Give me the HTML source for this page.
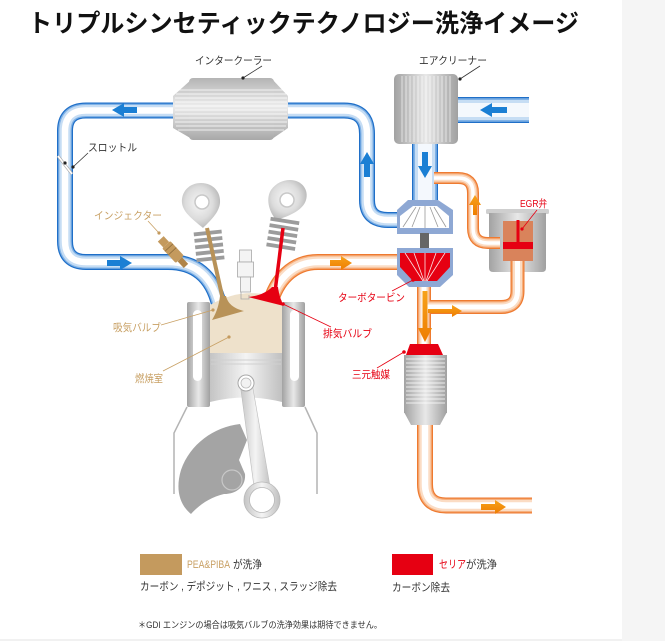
<!DOCTYPE html>
<html><head><meta charset="utf-8">
<style>
html,body{margin:0;padding:0;background:#fff;}
svg{display:block;}
text{font-family:"Liberation Sans","Noto Sans CJK JP",sans-serif;}
</style></head>
<body>
<svg width="665" height="641" viewBox="0 0 665 641" xmlns="http://www.w3.org/2000/svg">
<defs>
  <linearGradient id="gH" x1="0" y1="0" x2="1" y2="0">
    <stop offset="0" stop-color="#a2a2a2"/><stop offset="0.5" stop-color="#e8e8e8"/><stop offset="1" stop-color="#a0a0a0"/>
  </linearGradient>
  <linearGradient id="gV" x1="0" y1="0" x2="0" y2="1">
    <stop offset="0" stop-color="#b4b4b4"/><stop offset="0.45" stop-color="#ececec"/><stop offset="1" stop-color="#a8a8a8"/>
  </linearGradient>
  <linearGradient id="gPist" x1="0" y1="0" x2="1" y2="0">
    <stop offset="0" stop-color="#c4c4c4"/><stop offset="0.5" stop-color="#f4f4f4"/><stop offset="1" stop-color="#c0c0c0"/>
  </linearGradient>
  <radialGradient id="gCam" cx="0.45" cy="0.45" r="0.6">
    <stop offset="0" stop-color="#f6f6f6"/><stop offset="0.6" stop-color="#dcdcdc"/><stop offset="1" stop-color="#b4b4b4"/>
  </radialGradient>
  <linearGradient id="gOrA" x1="0" y1="0" x2="0" y2="1">
    <stop offset="0" stop-color="#f7a21b"/><stop offset="1" stop-color="#ee7d00"/>
  </linearGradient>
  <g id="blueLoop">
    <path d="M176,110.5 H86 Q65,110.5 65,131 V241 Q65,262 86,262 H168 C195,262 212,276 219,304"/>
    <path d="M286,110.5 H344 Q367,110.5 367,134 V200 Q367,220 388,220 H400"/>
  </g>
  <g id="blueWide">
    <path d="M456,110 H529"/>
    <path d="M425,142 V210"/>
  </g>
  <g id="orExh">
    <path d="M270,304 C276,281 292,262 318,262 H399"/>
    <path d="M425,420 V484 Q425,505.5 446,505.5 H532"/>
  </g>
  <g id="orMid">
    <path d="M424,284 V346"/>
    <path d="M426,307 H501 Q517.5,307 517.5,291 V262"/>
  </g>
  <g id="orEgr">
    <path d="M500,243 H488 Q473,243 473,228 V193 Q473,178 458,178 H434"/>
  </g>
</defs>

<rect x="0" y="0" width="665" height="641" fill="#ffffff"/>
<rect x="622" y="0" width="43" height="641" fill="#f5f5f5"/>
<rect x="0" y="639" width="622" height="2" fill="#f1f1f1"/>

<!-- Title -->
<text x="28" y="32" font-size="25" font-weight="bold" fill="#111" textLength="551" lengthAdjust="spacingAndGlyphs">トリプルシンセティックテクノロジー洗浄イメージ</text>

<!-- Blue pipes -->
<g fill="none" stroke-linecap="butt">
  <use href="#blueLoop" stroke="#1f6fc8" stroke-width="16"/>
  <use href="#blueLoop" stroke="#80b2e6" stroke-width="13.5"/>
  <use href="#blueLoop" stroke="#c6ddf4" stroke-width="11"/>
  <use href="#blueLoop" stroke="#ffffff" stroke-width="6.5"/>
  <use href="#blueWide" stroke="#1f6fc8" stroke-width="26"/>
  <use href="#blueWide" stroke="#80b2e6" stroke-width="23.5"/>
  <use href="#blueWide" stroke="#c6ddf4" stroke-width="20"/>
  <use href="#blueWide" stroke="#f4f8fd" stroke-width="14"/>
</g>

<!-- Orange pipes -->
<g fill="none" stroke-linecap="butt">
  <use href="#orExh" stroke="#ee7a30" stroke-width="16"/>
  <use href="#orExh" stroke="#f6b07e" stroke-width="13.5"/>
  <use href="#orExh" stroke="#fbdcc4" stroke-width="11"/>
  <use href="#orExh" stroke="#ffffff" stroke-width="6.5"/>
  <use href="#orMid" stroke="#ee7a30" stroke-width="14"/>
  <use href="#orMid" stroke="#f6b07e" stroke-width="11.5"/>
  <use href="#orMid" stroke="#fbdcc4" stroke-width="9"/>
  <use href="#orMid" stroke="#ffffff" stroke-width="5"/>
</g>

<!-- EGR cup -->
<rect x="486" y="209" width="63" height="5" rx="1.5" fill="#cfcfcf"/>
<path d="M489,213 H546 V268 Q546,272 542,272 H493 Q489,272 489,268 Z" fill="url(#gH)"/>
<g fill="none" stroke-linecap="butt">
  <use href="#orEgr" stroke="#ee7a30" stroke-width="12"/>
  <use href="#orEgr" stroke="#f6b07e" stroke-width="9.5"/>
  <use href="#orEgr" stroke="#fbdcc4" stroke-width="7"/>
  <use href="#orEgr" stroke="#ffffff" stroke-width="3.5"/>
</g>
<g fill="none" stroke-linecap="butt">
  <path d="M517.5,272 V260" stroke="#ee7a30" stroke-width="14"/>
  <path d="M517.5,272 V260" stroke="#f6b07e" stroke-width="11.5"/>
  <path d="M517.5,272 V260" stroke="#fbdcc4" stroke-width="9"/>
  <path d="M517.5,272 V260" stroke="#ffffff" stroke-width="5"/>
</g>
<rect x="503" y="221" width="30" height="40" fill="#d9835b"/>
<rect x="503" y="242" width="30" height="7" fill="#e60012"/>
<rect x="516.5" y="220" width="3" height="23" fill="#e60012"/>

<!-- Intercooler -->
<polygon points="192,79 173,96 173,128 192,139" fill="url(#gV)"/>
<polygon points="272,79 288,96 288,128 272,139" fill="url(#gV)"/>
<rect x="189" y="78" width="85" height="62" rx="4" fill="url(#gV)"/>
<g stroke="#ffffff" stroke-opacity="0.75" stroke-width="1">
  <line x1="178" y1="90" x2="284" y2="90"/><line x1="176" y1="94" x2="286" y2="94"/>
  <line x1="175" y1="98" x2="287" y2="98"/><line x1="175" y1="102" x2="287" y2="102"/>
  <line x1="175" y1="106" x2="287" y2="106"/><line x1="175" y1="110" x2="287" y2="110"/>
  <line x1="175" y1="114" x2="287" y2="114"/><line x1="175" y1="118" x2="287" y2="118"/>
  <line x1="175" y1="122" x2="287" y2="122"/><line x1="176" y1="126" x2="286" y2="126"/>
  <line x1="178" y1="130" x2="284" y2="130"/>
</g>

<!-- Air cleaner -->
<rect x="394" y="74" width="64" height="70" rx="5" fill="url(#gH)"/>
<g stroke="#ffffff" stroke-opacity="0.6" stroke-width="1">
  <line x1="402" y1="76" x2="402" y2="142"/><line x1="406" y1="76" x2="406" y2="142"/>
  <line x1="410" y1="76" x2="410" y2="142"/><line x1="414" y1="76" x2="414" y2="142"/>
  <line x1="418" y1="76" x2="418" y2="142"/><line x1="422" y1="76" x2="422" y2="142"/>
  <line x1="426" y1="76" x2="426" y2="142"/><line x1="430" y1="76" x2="430" y2="142"/>
  <line x1="434" y1="76" x2="434" y2="142"/><line x1="438" y1="76" x2="438" y2="142"/>
  <line x1="442" y1="76" x2="442" y2="142"/><line x1="446" y1="76" x2="446" y2="142"/>
  <line x1="450" y1="76" x2="450" y2="142"/>
</g>

<!-- Turbo compressor -->
<polygon points="408,200 438,200 453,210 453,234 397,234 397,210" fill="#8ea8d4"/>
<polygon points="413,206 437,206 449,216 449,228 400,228 400,216" fill="#ffffff"/>
<g stroke="#9a9a9a" stroke-width="0.8">
  <line x1="416" y1="207" x2="403" y2="227"/><line x1="420" y1="207" x2="412" y2="227"/>
  <line x1="425" y1="206" x2="425" y2="228"/><line x1="430" y1="207" x2="438" y2="227"/>
  <line x1="434" y1="207" x2="446" y2="227"/>
</g>
<rect x="420" y="233" width="9" height="16" fill="#666"/>
<!-- Turbine -->
<polygon points="397,248 453,248 453,275 440,287 409,287 397,275" fill="#8ea8d4"/>
<polygon points="400,253 450,253 450,267 437,281 413,281 400,267" fill="#e60012"/>
<g stroke="#ffffff" stroke-width="0.8" stroke-opacity="0.9">
  <line x1="405" y1="253" x2="423" y2="281"/><line x1="414" y1="253" x2="424" y2="281"/>
  <line x1="425" y1="253" x2="425" y2="281"/><line x1="436" y1="253" x2="426" y2="281"/>
  <line x1="445" y1="253" x2="427" y2="281"/>
</g>

<!-- Catalyst -->
<polygon points="410,344 438,344 443,355 406,355" fill="#e60012"/>
<rect x="404" y="355" width="43" height="58" fill="url(#gH)"/>
<polygon points="404,412 447,412 440,425 411,425" fill="url(#gH)"/>
<g stroke="#ffffff" stroke-opacity="0.75" stroke-width="0.9">
  <line x1="406" y1="359" x2="445" y2="359"/><line x1="406" y1="363" x2="445" y2="363"/>
  <line x1="406" y1="367" x2="445" y2="367"/><line x1="406" y1="371" x2="445" y2="371"/>
  <line x1="406" y1="375" x2="445" y2="375"/><line x1="406" y1="379" x2="445" y2="379"/>
  <line x1="406" y1="383" x2="445" y2="383"/><line x1="406" y1="387" x2="445" y2="387"/>
  <line x1="406" y1="391" x2="445" y2="391"/><line x1="406" y1="395" x2="445" y2="395"/>
  <line x1="406" y1="399" x2="445" y2="399"/><line x1="406" y1="403" x2="445" y2="403"/>
</g>

<!-- Engine: cam lobes -->
<path d="M201,183 C214,183 221,193 220,203 C219,213 210,221 203,228 C195,221 183,213 182,203 C181,192 189,183 201,183 Z" fill="url(#gCam)"/>
<circle cx="202" cy="202" r="7" fill="#fff" stroke="#c8c8c8" stroke-width="1.5"/>
<path d="M290,180 C302,180 309,190 306,200 C303,210 290,216 276,220 C268,210 266,198 271,190 C276,183 283,180 290,180 Z" fill="url(#gCam)"/>
<circle cx="287" cy="200" r="7" fill="#fff" stroke="#c8c8c8" stroke-width="1.5"/>

<!-- Springs -->
<g fill="#9c9c9c">
  <g transform="rotate(-6 209 245)">
    <rect x="195" y="231" width="28" height="3.8"/><rect x="195" y="237.5" width="28" height="3.8"/>
    <rect x="195" y="244" width="28" height="3.8"/><rect x="195" y="250.5" width="28" height="3.8"/>
    <rect x="195" y="257" width="28" height="3.8"/>
  </g>
  <g transform="rotate(9 283 236)">
    <rect x="268" y="219" width="29" height="3.8"/><rect x="268" y="225.5" width="29" height="3.8"/>
    <rect x="268" y="232" width="29" height="3.8"/><rect x="268" y="238.5" width="29" height="3.8"/>
    <rect x="268" y="245" width="29" height="3.8"/>
  </g>
</g>

<!-- Combustion chamber -->
<path d="M210,353 V305 Q246,284 282,300 V353 Z" fill="#eee1cb"/>

<!-- Intake valve -->
<line x1="207" y1="228" x2="223" y2="300" stroke="#b89258" stroke-width="4"/>
<path d="M220,296 L226,296 C228,305 236,309 244,311 L212,320 C217,312 219,304 220,296 Z" fill="#b89258"/>
<!-- Exhaust valve -->
<line x1="283" y1="228" x2="275" y2="292" stroke="#e60012" stroke-width="3.5"/>
<path d="M272,287 L278,287 C279,295 281,301 284,306 L248,297 C258,296 266,293 272,287 Z" fill="#e60012"/>

<!-- Spark plug -->
<g fill="#f4f4f4" stroke="#a8a8a8" stroke-width="0.8">
  <rect x="239.5" y="250" width="12" height="12"/>
  <rect x="237.5" y="262" width="16" height="15"/>
  <rect x="240.5" y="277" width="10" height="15"/>
  <path d="M241,292 V299 H249 V295" fill="none"/>
</g>

<!-- Injector -->
<g transform="translate(173,252) rotate(47)">
  <rect x="-18" y="-4" width="8" height="8" fill="#c49a5e"/>
  <rect x="-10" y="-5.5" width="20" height="11" rx="1.5" fill="#c49a5e"/>
  <rect x="10" y="-3" width="9" height="6" fill="#b08448"/>
  <line x1="-6" y1="-5.5" x2="-6" y2="5.5" stroke="#8a6a3a" stroke-width="0.8"/>
  <line x1="-1" y1="-5.5" x2="-1" y2="5.5" stroke="#8a6a3a" stroke-width="0.8"/>
</g>

<!-- Cylinder walls -->
<rect x="187" y="302" width="23" height="105" rx="2" fill="url(#gH)"/>
<rect x="193" y="310" width="9" height="71" rx="4.5" fill="#ffffff"/>
<rect x="282" y="302" width="23" height="105" rx="2" fill="url(#gH)"/>
<rect x="290" y="310" width="9" height="71" rx="4.5" fill="#ffffff"/>

<!-- Crankcase outline -->
<g fill="none" stroke="#b4b4b4" stroke-width="1.5">
  <polyline points="187,407 174,433 174,494"/>
  <polyline points="305,407 317,433 317,494"/>
</g>

<!-- Counterweight -->
<path d="M240,424 C214,427 190,444 181,470 C175,490 180,505 191,514 C198,506 210,497 224,494 C238,494 246,485 245,474 L239,460 L247,440 Z" fill="#a4a4a4"/>
<circle cx="232" cy="480" r="10" fill="none" stroke="#c8c8c8" stroke-width="1.2"/>

<!-- Piston -->
<path d="M210,353 H282 V402 Q246,393 210,402 Z" fill="url(#gPist)"/>
<line x1="211" y1="360" x2="281" y2="360" stroke="#d0d0d0" stroke-width="1"/>
<line x1="211" y1="364" x2="281" y2="364" stroke="#d0d0d0" stroke-width="1"/>

<!-- Connecting rod -->
<polygon points="240,383 252,383 271,492 255,494" fill="url(#gPist)" stroke="#bdbdbd" stroke-width="0.6"/>
<circle cx="262" cy="500" r="18" fill="url(#gPist)" stroke="#b8b8b8" stroke-width="0.8"/>
<circle cx="262" cy="500" r="12.5" fill="#ffffff" stroke="#b8b8b8" stroke-width="0.8"/>
<circle cx="246" cy="383" r="8" fill="#ffffff" stroke="#a8a8a8" stroke-width="1"/>
<circle cx="246" cy="383" r="5" fill="#f2f2f2" stroke="#b8b8b8" stroke-width="0.8"/>

<!-- Arrows -->
<g fill="#1b7fd4">
  <polygon points="112,110 124,103 124,107 137,107 137,113 124,113 124,117"/>
  <polygon points="132,263 120,256 120,260 107,260 107,266 120,266 120,270"/>
  <polygon points="367,152 360,164 364,164 364,177 370,177 370,164 374,164"/>
  <polygon points="425,178 418,166 422,166 422,152 428,152 428,166 432,166"/>
  <polygon points="480,110 492,103 492,107 507,107 507,113 492,113 492,117"/>
</g>
<g fill="url(#gOrA)">
  <polygon points="352,263 341,256 341,260 330,260 330,266 341,266 341,270"/>
  <polygon points="475,195 469,205 473,205 473,215 477,215 477,205 481,205"/>
  <polygon points="462,311 452,305 452,309 428,309 428,313 452,313 452,317"/>
  <polygon points="425,342 418,328 422.5,328 422.5,291 427.5,291 427.5,328 432,328"/>
  <polygon points="506,507 495,500 495,504 481,504 481,510 495,510 495,514"/>
</g>

<!-- Throttle -->
<line x1="58" y1="156" x2="72" y2="174" stroke="#aaa" stroke-width="3"/>
<line x1="58" y1="156" x2="72" y2="174" stroke="#fff" stroke-width="1.6"/>

<!-- Leaders -->
<g stroke-width="0.8" fill="none">
  <line x1="262" y1="66" x2="243" y2="78" stroke="#333"/>
  <line x1="480" y1="66" x2="460" y2="79" stroke="#333"/>
  <line x1="88" y1="153" x2="73" y2="167" stroke="#333"/>
  <line x1="148" y1="221" x2="159" y2="233" stroke="#c8a064"/>
  <line x1="161" y1="325" x2="213" y2="310" stroke="#c8a064"/>
  <line x1="163" y1="371" x2="229" y2="337" stroke="#c8a064"/>
  <line x1="331" y1="327" x2="283" y2="304" stroke="#e60012"/>
  <line x1="392" y1="291" x2="413" y2="280" stroke="#e60012"/>
  <line x1="377" y1="368" x2="404" y2="352" stroke="#e60012"/>
  <line x1="537" y1="210" x2="522" y2="229" stroke="#e60012"/>
</g>
<g>
  <circle cx="243" cy="78" r="1.6" fill="#222"/>
  <circle cx="460" cy="79" r="1.6" fill="#222"/>
  <circle cx="73" cy="167" r="1.6" fill="#222"/>
  <circle cx="65" cy="163" r="1.6" fill="#222"/>
  <circle cx="159" cy="233" r="1.6" fill="#c49a5e"/>
  <circle cx="213" cy="310" r="1.6" fill="#c49a5e"/>
  <circle cx="229" cy="337" r="1.6" fill="#c49a5e"/>
  <circle cx="283" cy="304" r="1.8" fill="#e60012"/>
  <circle cx="413" cy="280" r="1.8" fill="#e60012"/>
  <circle cx="404" cy="352" r="1.8" fill="#e60012"/>
  <circle cx="522" cy="229" r="1.6" fill="#e60012"/>
</g>

<!-- Labels -->
<g font-size="10.5">
  <text x="195" y="64" fill="#333" textLength="77" lengthAdjust="spacingAndGlyphs">インタークーラー</text>
  <text x="419" y="64" fill="#333" textLength="68" lengthAdjust="spacingAndGlyphs">エアクリーナー</text>
  <text x="88" y="151" fill="#333" textLength="49" lengthAdjust="spacingAndGlyphs">スロットル</text>
  <text x="94" y="219" fill="#c8a064" textLength="68" lengthAdjust="spacingAndGlyphs">インジェクター</text>
  <text x="113" y="331" fill="#c8a064" textLength="48" lengthAdjust="spacingAndGlyphs">吸気バルブ</text>
  <text x="135" y="382" fill="#c8a064" textLength="28" lengthAdjust="spacingAndGlyphs">燃焼室</text>
  <text x="323" y="337" fill="#e60012" textLength="49" lengthAdjust="spacingAndGlyphs">排気バルブ</text>
  <text x="338" y="301" fill="#e60012" textLength="67" lengthAdjust="spacingAndGlyphs">ターボタービン</text>
  <text x="352" y="378" fill="#e60012" textLength="38" lengthAdjust="spacingAndGlyphs">三元触媒</text>
  <text x="520" y="207" fill="#e60012" textLength="27" lengthAdjust="spacingAndGlyphs">EGR弁</text>
</g>

<!-- Legend -->
<rect x="140" y="554" width="42" height="21" fill="#c49a5e"/>
<text x="187" y="568" font-size="11" fill="#c8a064" textLength="43" lengthAdjust="spacingAndGlyphs">PEA&amp;PIBA</text>
<text x="233" y="568" font-size="11" fill="#333" textLength="29" lengthAdjust="spacingAndGlyphs">が洗浄</text>
<text x="140" y="590" font-size="11" fill="#333" textLength="197" lengthAdjust="spacingAndGlyphs">カーボン , デポジット , ワニス , スラッジ除去</text>
<rect x="392" y="554" width="41" height="21" fill="#e60012"/>
<text x="439" y="568" font-size="11" fill="#e60012" textLength="27" lengthAdjust="spacingAndGlyphs">セリア</text>
<text x="466" y="568" font-size="11" fill="#333" textLength="31" lengthAdjust="spacingAndGlyphs">が洗浄</text>
<text x="392" y="591" font-size="11" fill="#333" textLength="58" lengthAdjust="spacingAndGlyphs">カーボン除去</text>
<text x="138" y="628" font-size="9" fill="#333" textLength="244" lengthAdjust="spacingAndGlyphs">＊GDI エンジンの場合は吸気バルブの洗浄効果は期待できません。</text>
</svg>
</body></html>
